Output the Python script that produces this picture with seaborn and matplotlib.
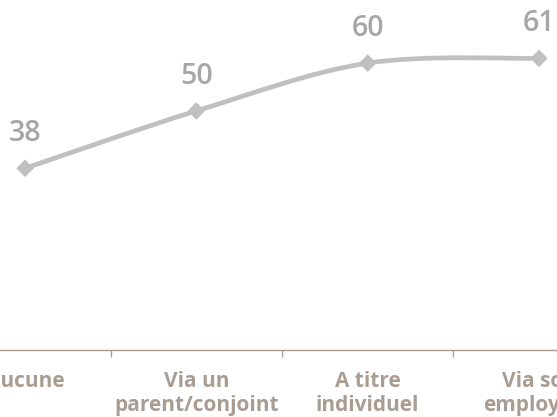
import numpy as np
import seaborn as sns
import matplotlib.pyplot as plt
from matplotlib.path import Path
from matplotlib.patches import PathPatch
from matplotlib.ticker import FixedLocator

categories = ["Aucune", "Via un\nparent/conjoint", "A titre\nindividuel", "Via son\nemployeur"]
values = [38, 50, 60, 61]

sns.set_style("white")
plt.rcParams['font.family'] = ['Open Sans', 'DejaVu Sans']

line_col = "#c0c0c0"
label_col = "#a6a6a6"
axis_col = "#a99d93"

fig = plt.figure(figsize=(5.57, 4.17), dpi=100)
ax = fig.add_axes([0, 0.1607, 1, 0.8393])

x = np.arange(len(values), dtype=float)
y = np.array(values, dtype=float)

# smoothed line through the points (Catmull-Rom as cubic bezier)
pts = np.column_stack([x, y])
ext = np.vstack([pts[0], pts, pts[-1]])
verts = [tuple(pts[0])]
codes = [Path.MOVETO]
for i in range(len(pts) - 1):
    p0, p1, p2, p3 = ext[i], ext[i + 1], ext[i + 2], ext[i + 3]
    c1 = p1 + (p2 - p0) / 6
    c2 = p2 - (p3 - p1) / 6
    verts += [tuple(c1), tuple(c2), tuple(p2)]
    codes += [Path.CURVE4] * 3
ax.add_patch(PathPatch(Path(verts, codes), facecolor="none", edgecolor=line_col,
                       lw=3.4, capstyle="butt", zorder=2))

sns.scatterplot(x=x, y=y, marker="D", s=80, color=line_col, edgecolor="none",
                ax=ax, zorder=3, legend=False)

for xi, v in zip(x, values):
    ax.annotate(str(v), (xi, v), xytext=(0, 25), textcoords="offset points",
                ha="center", va="center", fontsize=20.5, color=label_col,
                fontweight="semibold")

ax.set_xlim(-0.146, 3.105)
ax.set_ylim(0, 73.2)

ax.set_xticks(x)
ax.set_xticklabels(categories, fontsize=15, fontweight="bold", color=axis_col,
                   linespacing=1.2)
ax.xaxis.set_minor_locator(FixedLocator([0.5, 1.5, 2.5]))
ax.tick_params(axis="x", which="major", length=0, pad=15)
ax.tick_params(axis="x", which="minor", length=5, width=1, color=axis_col,
               direction="out", bottom=True)
ax.set_yticks([])

for side in ["top", "left", "right"]:
    ax.spines[side].set_visible(False)
ax.spines["bottom"].set_color(axis_col)
ax.spines["bottom"].set_linewidth(1)

fig.savefig("out.png", dpi=100)
